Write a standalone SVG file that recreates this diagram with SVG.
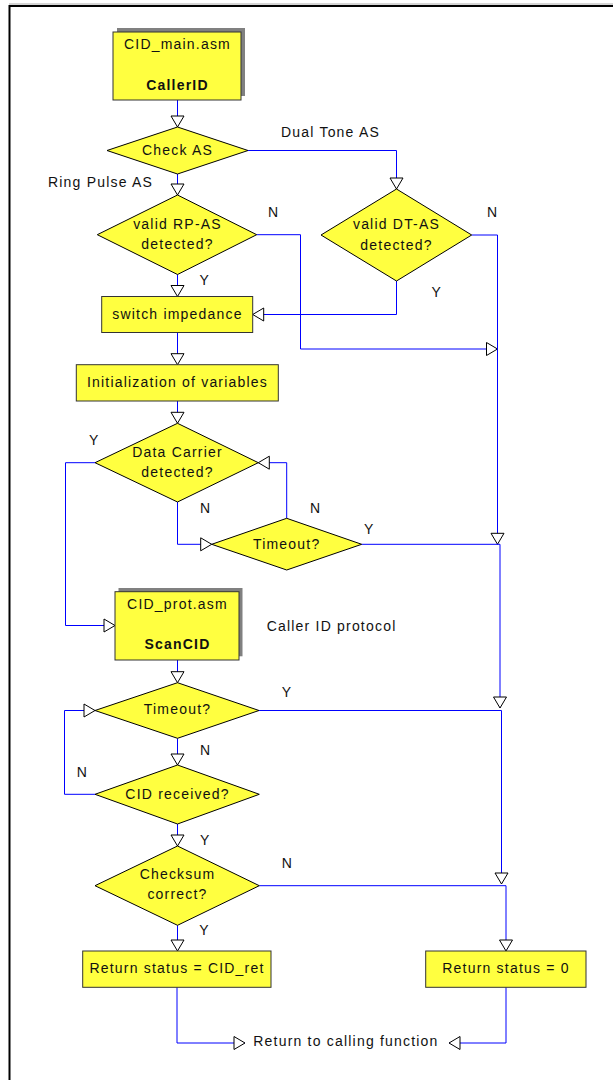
<svg xmlns="http://www.w3.org/2000/svg" width="613" height="1080" viewBox="0 0 613 1080">
<style>
.t{font-family:"Liberation Sans",Arial,sans-serif;font-size:14px;letter-spacing:1.2px;fill:#111}
.m{text-anchor:middle}
.b{font-weight:bold}
.d{fill:#ffff40;stroke:#000;stroke-width:1}
.r{fill:#ffff40;stroke:#333;stroke-width:1}
.sh{fill:#808080}
.c{fill:none;stroke:#0000ff;stroke-width:1;marker-end:url(#ah)}
.c2{fill:none;stroke:#0000ff;stroke-width:1}
</style>
<defs>
<marker id="ah" markerUnits="userSpaceOnUse" markerWidth="14" markerHeight="15" refX="11" refY="6.5" orient="auto" overflow="visible">
<path d="M0,0 L11,6.5 L0,13 Z" fill="#fff" stroke="#000" stroke-width="1"/>
</marker>
</defs>
<rect x="0" y="0" width="613" height="1080" fill="#fff"/>
<line x1="9" y1="4" x2="613" y2="4" stroke="#aaa" stroke-width="1"/>
<rect x="9.5" y="6" width="700" height="1200" fill="none" stroke="#000" stroke-width="2"/>

<g id="connectors">
<path class="c" d="M177.5,100 V127"/>
<path class="c" d="M177.5,174 V195"/>
<path class="c" d="M248,150.5 H396.5 V189"/>
<path class="c" d="M177.5,274.5 V296.5"/>
<path class="c" d="M396.5,281 V314.5 H252.7"/>
<path class="c" d="M256.7,234.7 H300.5 V349 H497.5"/>
<path class="c" d="M471.7,235 H497.5 V544.3"/>
<path class="c" d="M177.5,332.5 V364.7"/>
<path class="c" d="M177.5,401 V423.3"/>
<path class="c" d="M95,462.7 H65.5 V625.5 H115"/>
<path class="c" d="M177.5,502 V544.3 H211.7"/>
<path class="c" d="M286.7,518.3 V462.7 H258.3"/>
<path class="c" d="M361.7,544.3 H500 V708"/>
<path class="c" d="M177.5,660 V682.7"/>
<path class="c" d="M259,710.5 H501.5 V884"/>
<path class="c" d="M177.5,738.3 V765"/>
<path class="c" d="M95,794.3 H64.5 V710.5 H95"/>
<path class="c" d="M177.5,824 V846"/>
<path class="c" d="M259.3,885.7 H506 V951"/>
<path class="c" d="M177.5,925.3 V951"/>
<path class="c" d="M177,987.3 V1043 H245"/>
<path class="c" d="M506,987.3 V1043 H449"/>
</g>

<g id="n_cid_main">
<rect class="sh" x="117" y="28" width="128" height="68"/>
<rect class="r" x="113" y="32" width="128" height="68"/>
<text class="t m" x="177.5" y="49">CID_main.asm</text>
<text class="t m b" x="177.5" y="90">CallerID</text>
</g>
<g id="n_check_as">
<polygon class="d" points="107,150.5 177.5,127 248,150.5 177.5,174"/>
<text class="t m" x="177.5" y="155">Check AS</text>
</g>
<g id="n_rp">
<polygon class="d" points="97.3,234.7 177.5,195 256.7,234.7 177.5,274.5"/>
<text class="t m" x="177.5" y="228.5">valid RP-AS</text>
<text class="t m" x="177.5" y="248.5">detected?</text>
</g>
<g id="n_dt">
<polygon class="d" points="321,235 396.5,189 471.7,235 396.5,281"/>
<text class="t m" x="396.5" y="229">valid DT-AS</text>
<text class="t m" x="396.5" y="249.5">detected?</text>
</g>
<g id="n_switch">
<rect class="r" x="101.7" y="296.5" width="151" height="36"/>
<text class="t m" x="177.5" y="319">switch impedance</text>
</g>
<g id="n_init">
<rect class="r" x="76.3" y="364.7" width="202" height="36.3"/>
<text class="t m" x="177.5" y="387">Initialization of variables</text>
</g>
<g id="n_dc">
<polygon class="d" points="95,462.7 177.5,423.3 258.3,462.7 177.5,502"/>
<text class="t m" x="177.5" y="457">Data Carrier</text>
<text class="t m" x="177.5" y="476.5">detected?</text>
</g>
<g id="n_timeout1">
<polygon class="d" points="211.7,544.3 286.7,518.3 361.7,544.3 286.7,570"/>
<text class="t m" x="286.7" y="548.5">Timeout?</text>
</g>
<g id="n_cid_prot">
<rect class="sh" x="118.5" y="588" width="124" height="68.3"/>
<rect class="r" x="115" y="591.7" width="124" height="68.3"/>
<text class="t m" x="177.5" y="609">CID_prot.asm</text>
<text class="t m b" x="177.5" y="648.5">ScanCID</text>
</g>
<g id="n_timeout2">
<polygon class="d" points="95,710.5 177.5,682.7 259,710.5 177.5,738.3"/>
<text class="t m" x="177.5" y="713.5">Timeout?</text>
</g>
<g id="n_cidrec">
<polygon class="d" points="95,794.3 177.5,765 259.3,794.3 177.5,824"/>
<text class="t m" x="177.5" y="798.5">CID received?</text>
</g>
<g id="n_checksum">
<polygon class="d" points="95,885.7 177.5,846 259.3,885.7 177.5,925.3"/>
<text class="t m" x="177.5" y="878.5">Checksum</text>
<text class="t m" x="177.5" y="898.5">correct?</text>
</g>
<g id="n_ret_cid">
<rect class="r" x="82.7" y="951" width="188.3" height="36.3"/>
<text class="t m" x="177" y="973">Return status = CID_ret</text>
</g>
<g id="n_ret0">
<rect class="r" x="425.7" y="951" width="160.3" height="36.3"/>
<text class="t m" x="506" y="973">Return status = 0</text>
</g>
<g id="n_return">
<text class="t" x="253.3" y="1046">Return to calling function</text>
</g>

<g id="labels">
<text class="t" x="48" y="187">Ring Pulse AS</text>
<text class="t" x="281" y="137">Dual Tone AS</text>
<text class="t" x="268" y="217">N</text>
<text class="t" x="199.5" y="285">Y</text>
<text class="t" x="487" y="217">N</text>
<text class="t" x="431.5" y="297">Y</text>
<text class="t" x="89" y="445">Y</text>
<text class="t" x="200" y="513">N</text>
<text class="t" x="310" y="513">N</text>
<text class="t" x="364" y="533.5">Y</text>
<text class="t" x="266.7" y="631">Caller ID protocol</text>
<text class="t" x="281.7" y="697">Y</text>
<text class="t" x="200" y="755">N</text>
<text class="t" x="76.7" y="777">N</text>
<text class="t" x="200" y="845">Y</text>
<text class="t" x="281.7" y="867.5">N</text>
<text class="t" x="199.3" y="935">Y</text>
</g>
</svg>
